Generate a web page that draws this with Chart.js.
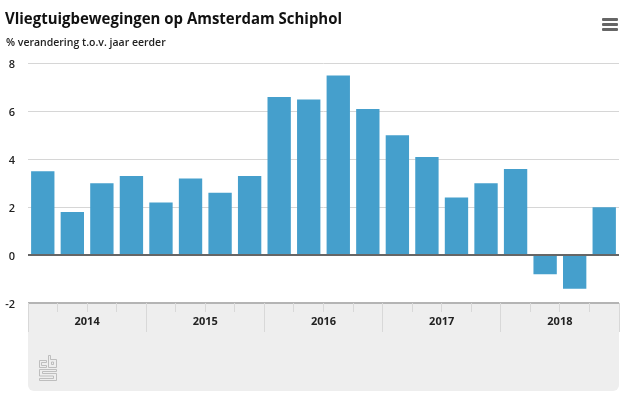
<!DOCTYPE html>
<html><head><meta charset="utf-8">
<style>
html,body{margin:0;padding:0;background:#fff;width:630px;height:403px;overflow:hidden}
#c{position:absolute;left:0;top:0}
.t{position:absolute;white-space:nowrap;color:#111;font-family:"DejaVu Sans"}
#title{left:5px;top:7px;font-size:16px;font-weight:bold;font-family:"Open Sans";transform:scaleX(.935);transform-origin:left top}
#sub{left:6px;top:34.5px;font-size:10.5px;color:#222;font-family:"Open Sans";font-weight:600}
#menu{position:absolute;left:601.5px;top:18px;width:16px}
#menu i{display:block;height:3px;background:#666;margin-bottom:2px;border-radius:1px}
#logo{position:absolute;left:38px;top:354px}
</style></head><body>
<div style="position:absolute;left:0;top:0;width:630px;height:403px"><canvas id="c"></canvas></div>
<div class="t" id="title">Vliegtuigbewegingen op Amsterdam Schiphol</div>
<div class="t" id="sub">% verandering t.o.v. jaar eerder</div>
<div id="menu"><i></i><i></i><i></i></div>
<svg id="logo" width="20" height="28" viewBox="0 0 20 28" fill="none" stroke="#b8b8b8" stroke-width="0.9">
<path d="M1.5 6.5H8.5V8.5H3.5V11.5H8.5V13.5H1.5Z"/>
<path d="M10.5 1.5H12.5V5.5H18.5V13.5H10.5Z"/>
<path d="M13.5 8H15.5V10.5H13.5Z"/>
<path d="M1.5 15.5H18.5V17.5H4.5V19.5H18.5V26.5H1.5V24.5H15.5V22H1.5Z"/>
</svg>
<script src="https://cdn.jsdelivr.net/npm/chart.js@4/dist/chart.umd.min.js"></script>
<script>
const quarters=["2014 Q1","2014 Q2","2014 Q3","2014 Q4","2015 Q1","2015 Q2","2015 Q3","2015 Q4","2016 Q1","2016 Q2","2016 Q3","2016 Q4","2017 Q1","2017 Q2","2017 Q3","2017 Q4","2018 Q1","2018 Q2","2018 Q3","2018 Q4"];
const values=[3.5,1.8,3.0,3.3,2.2,3.2,2.6,3.3,6.6,6.5,7.5,6.1,5.0,4.1,2.4,3.0,3.6,-0.8,-1.4,2.0];
const years=["2014","2015","2016","2017","2018"];
const font='"Open Sans"';
const panel={id:'panel',beforeDraw(ch){
  const a=ch.chartArea,c=ch.ctx;
  c.save();c.fillStyle='#eeeeee';c.beginPath();
  c.roundRect(a.left,a.bottom,a.right-a.left,88,[0,0,6,6]);c.fill();c.restore();
},afterDatasetsDraw(ch){
  const a=ch.chartArea,c=ch.ctx,y=ch.scales.y.getPixelForValue(0);
  c.save();c.strokeStyle='#666666';c.lineWidth=2;c.beginPath();c.moveTo(a.left,y);c.lineTo(a.right,y);c.stroke();c.restore();
}};
Chart.defaults.animation=false;
new Chart(document.getElementById('c'),{
  type:'bar',
  data:{labels:quarters,datasets:[{data:values,backgroundColor:'#459fcc',borderWidth:0,barPercentage:0.79,categoryPercentage:1}]},
  plugins:[panel],
  options:{
    responsive:true,maintainAspectRatio:false,
    layout:{padding:{top:63.5,left:0,right:11,bottom:0}},
    plugins:{legend:{display:false},tooltip:{enabled:false}},
    scales:{
      y:{min:-2,max:8,afterFit(s){s.width=28;},
        border:{display:false},
        grid:{drawTicks:false,
          color:c=>c.tick.value===-2?'#b4b4b4':'#d6d6d6',
          lineWidth:c=>c.tick.value===-2?2:1},
        ticks:{stepSize:2,padding:13,align:'center',labelOffset:1.5,color:'#222',font:{family:font,size:11,weight:'600'},
          callback:v=>String(v)}},
      x:{position:'bottom',weight:0,afterFit(s){s.height=0;},
        border:{display:false},
        grid:{offset:true,drawOnChartArea:false,drawTicks:true,tickLength:9,tickWidth:1,tickColor:'#d8d8d8',color:'#d8d8d8'},
        ticks:{display:false}},
      x2:{type:'category',labels:years,position:'bottom',weight:1,afterFit(s){s.height=100;},
        border:{display:false},
        grid:{offset:true,drawOnChartArea:false,tickLength:29,tickWidth:1,tickColor:'#d8d8d8',color:'#d8d8d8'},
        ticks:{padding:-17,maxRotation:0,autoSkip:false,color:'#222',font:{family:font,size:11,weight:'bold'}}}
    }
  }
});
</script></body></html>
